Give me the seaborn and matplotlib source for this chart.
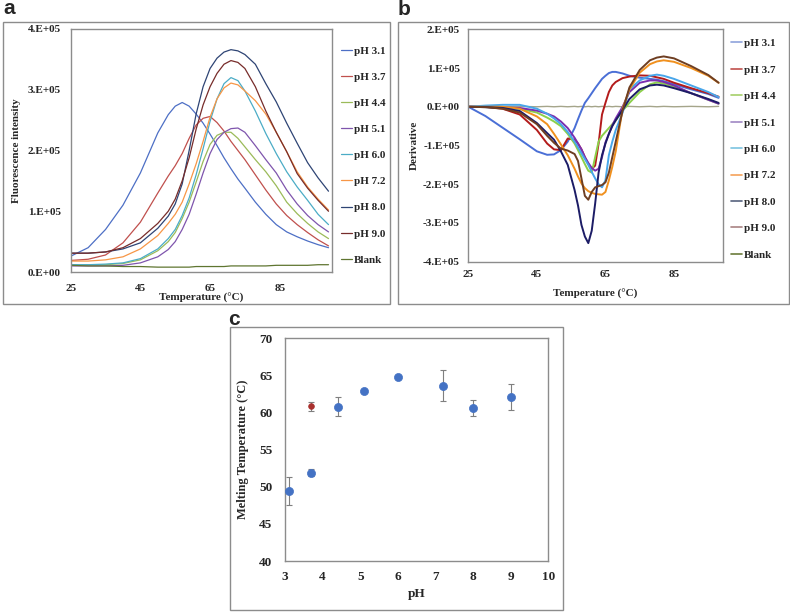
import numpy as np
import pandas as pd
import matplotlib
matplotlib.use("Agg")
import matplotlib.pyplot as plt
from matplotlib.lines import Line2D
from matplotlib.patches import Rectangle
import seaborn as sns

# ---------------- data ----------------
series_names = ["pH 3.1", "pH 3.7", "pH 4.4", "pH 5.1", "pH 6.0", "pH 7.2", "pH 8.0", "pH 9.0", "Blank"]

# Panel a: fluorescence intensity (x1e5) vs temperature
temp_a = [25, 30, 35, 40, 45, 50, 53, 55, 57, 59, 61, 63, 65, 67, 69, 71, 73, 75, 78, 81, 84, 87, 90, 93, 96, 99]
a_ph31 = [.26, .40, .70, 1.10, 1.63, 2.29, 2.59, 2.73, 2.79, 2.73, 2.60, 2.45, 2.27, 2.08, 1.88, 1.70, 1.53, 1.38, 1.15, .95, .78, .66, .58, .51, .45, .40]
a_ph37 = [.19, .21, .28, .48, .82, 1.30, 1.58, 1.75, 1.95, 2.20, 2.42, 2.53, 2.56, 2.46, 2.32, 2.15, 2.00, 1.85, 1.60, 1.35, 1.12, .93, .78, .65, .53, .43]
a_ph44 = [.12, .12, .12, .14, .20, .35, .50, .65, .88, 1.15, 1.48, 1.82, 2.10, 2.25, 2.30, 2.30, 2.20, 2.06, 1.85, 1.65, 1.42, 1.15, .96, .80, .66, .55]
a_ph51 = [.10, .10, .10, .11, .15, .25, .37, .50, .70, .95, 1.28, 1.63, 1.95, 2.18, 2.30, 2.36, 2.37, 2.30, 2.08, 1.85, 1.63, 1.35, 1.12, .93, .78, .66]
a_ph60 = [.12, .12, .13, .15, .22, .38, .55, .70, .93, 1.22, 1.60, 2.03, 2.48, 2.85, 3.10, 3.20, 3.15, 2.98, 2.65, 2.28, 1.95, 1.65, 1.40, 1.18, .95, .78]
a_ph72 = [.18, .18, .20, .25, .38, .60, .80, .95, 1.15, 1.45, 1.78, 2.15, 2.55, 2.85, 3.03, 3.11, 3.08, 2.98, 2.82, 2.60, 2.30, 1.98, 1.65, 1.40, 1.20, 1.02]
a_ph80 = [.31, .31, .33, .38, .48, .72, .92, 1.12, 1.45, 2.00, 2.60, 3.05, 3.35, 3.52, 3.62, 3.66, 3.64, 3.58, 3.42, 3.10, 2.80, 2.45, 2.12, 1.80, 1.55, 1.33]
a_ph90 = [.31, .31, .33, .40, .55, .80, 1.00, 1.20, 1.50, 1.88, 2.35, 2.75, 3.05, 3.27, 3.42, 3.48, 3.45, 3.35, 3.05, 2.65, 2.30, 1.98, 1.62, 1.38, 1.18, 1.00]
a_blank = [.11, .10, .10, .09, .09, .08, .08, .08, .08, .08, .09, .09, .09, .09, .09, .10, .10, .10, .10, .10, .11, .11, .11, .11, .12, .12]

# Panel b: derivative (x1e5) vs temperature
temp_b = [25, 30, 35, 40, 45, 48, 50, 52, 54, 56, 57, 58, 59, 60, 61, 62, 63, 64, 65, 66, 67, 68, 70, 72, 75, 78, 80, 82, 85, 90, 95, 98]
b_ph31 = [0, -.24, -.54, -.84, -1.15, -1.24, -1.23, -1.12, -.90, -.55, -.32, -.10, .10, .22, .35, .48, .60, .72, .80, .87, .90, .90, .86, .80, .75, .72, .70, .66, .58, .45, .33, .23]
b_ph37 = [0, 0, -.05, -.20, -.60, -.95, -1.10, -1.12, -.82, -.85, -.95, -1.10, -1.30, -1.48, -1.60, -1.52, -.95, -.20, .10, .38, .55, .64, .74, .78, .81, .80, .76, .72, .62, .48, .35, .26]
b_ph44 = [0, 0, -.02, -.05, -.15, -.28, -.38, -.50, -.70, -.95, -1.12, -1.30, -1.48, -1.65, -1.70, -1.30, -.90, -.75, -.65, -.55, -.45, -.35, -.10, .10, .38, .58, .63, .60, .52, .35, .18, .08]
b_ph51 = [0, 0, -.02, -.03, -.10, -.18, -.25, -.38, -.55, -.80, -.95, -1.10, -1.30, -1.45, -1.58, -1.65, -1.60, -1.30, -.92, -.70, -.48, -.30, 0, .38, .62, .68, .68, .64, .55, .35, .18, .08]
b_ph60 = [0, .03, .05, .05, -.05, -.18, -.30, -.45, -.65, -.90, -1.05, -1.20, -1.35, -1.50, -1.68, -1.85, -2.00, -2.08, -1.90, -1.25, -.90, -.60, -.15, .45, .68, .80, .83, .80, .72, .55, .38, .25]
b_ph72 = [0, 0, 0, -.05, -.25, -.45, -.70, -.97, -1.25, -1.60, -1.80, -1.98, -2.10, -2.18, -2.22, -2.25, -2.26, -2.27, -2.20, -1.90, -1.55, -1.15, -.05, .45, .88, 1.10, 1.17, 1.20, 1.16, 1.00, .80, .62]
b_ph80 = [0, -.01, -.03, -.11, -.42, -.68, -.85, -1.15, -1.50, -2.15, -2.55, -3.05, -3.35, -3.52, -3.20, -2.50, -1.70, -1.25, -.95, -.70, -.50, -.35, -.08, .20, .45, .55, .57, .55, .48, .35, .20, .10]
b_ph90 = [0, -.01, -.05, -.15, -.45, -.75, -.93, -1.08, -1.13, -1.22, -1.40, -1.85, -2.30, -2.40, -2.20, -2.08, -2.05, -2.02, -1.95, -1.70, -1.30, -.90, -.10, .50, .95, 1.20, 1.27, 1.30, 1.25, 1.05, .82, .62]
b_blank = [0, .01, 0, .01, 0, .01, 0, .01, 0, .01, 0, .01, 0, .01, 0, .01, 0, .01, 0, .01, 0, .01, 0, .01, 0, .01, 0, .01, 0, .01, 0, .01]

# Panel c: melting temperature vs pH
ph_c = [3.1, 3.7, 4.4, 5.1, 6.0, 7.2, 8.0, 9.0]
tm_c = [49.4, 51.9, 60.8, 62.9, 64.8, 63.6, 60.6, 62.1]
err_c = [1.9, 0.45, 1.25, 0.15, 0.15, 2.1, 1.05, 1.8]
ph_red = [3.7]
tm_red = [60.85]
err_red = [0.6]

ticks_a = [0, 1e5, 2e5, 3e5, 4e5]
ticklabels_a = ["0.E+00", "1.E+05", "2.E+05", "3.E+05", "4.E+05"]
ticks_b = [-4e5, -3e5, -2e5, -1e5, 0, 1e5, 2e5]
ticklabels_b = ["-4.E+05", "-3.E+05", "-2.E+05", "-1.E+05", "0.E+00", "1.E+05", "2.E+05"]
xticks_ab = [25, 45, 65, 85]

# ---------------- style ----------------
sns.set_style("white")
plt.rcParams["font.family"] = ["Liberation Serif", "DejaVu Serif"]
plt.rcParams["font.weight"] = "bold"
plt.rcParams["axes.labelweight"] = "bold"

colors_a = ["#4D6FC5", "#C0504D", "#9BBB59", "#7F55AD", "#4BACC6", "#F79646", "#2E4474", "#772C2A", "#5F7530"]
colors_b = ["#4A6FD6", "#B31B1B", "#8CD04A", "#7A2FB0", "#48A6EA", "#F0901E", "#1C1C66", "#6E3E22", "#A5A58A"]
legend_b = ["#8FA3DC", "#C0504D", "#A6D06A", "#9F87C4", "#7CC3E0", "#F5A25A", "#56627E", "#A98383", "#6B7B3B"]
frame_col = "#8C8C8C"

fig = plt.figure(figsize=(7.9, 6.12), dpi=100)
W, H = 790, 612

def ax_px(l, t, r, b):
    return fig.add_axes([l / W, 1 - b / H, (r - l) / W, (b - t) / H])

def frame(l, t, r, b):
    fig.patches.append(Rectangle((l / W, 1 - b / H), (r - l) / W, (b - t) / H,
                                 transform=fig.transFigure, fill=False,
                                 edgecolor=frame_col, linewidth=1.0))

frame(3, 22, 390, 304)
frame(398, 22, 789, 304)
frame(230, 327, 563, 610)

# ---------------- panel a ----------------
ax_a = ax_px(70.7, 29, 332, 272)
vals_a = [a_ph31, a_ph37, a_ph44, a_ph51, a_ph60, a_ph72, a_ph80, a_ph90, a_blank]
df_a = pd.concat([pd.DataFrame({"T": temp_a, "v": np.array(v) * 1e5, "s": n})
                  for n, v in zip(series_names, vals_a)])
sns.lineplot(data=df_a, x="T", y="v", hue="s", palette=colors_a, ax=ax_a,
             legend=False, linewidth=0.9)
ax_a.set_xlim(25, 100)
ax_a.set_ylim(0, 4e5)
ax_a.set_xticks(xticks_ab)
ax_a.set_yticks(ticks_a)
ax_a.set_yticklabels(ticklabels_a)
ax_a.tick_params(length=0, labelsize=8, pad=7)
ax_a.tick_params(axis="x", pad=8.5)
ax_a.set_xlabel("Temperature (°C)", fontsize=8)
ax_a.set_ylabel("Fluorescence intensity", fontsize=8)
ax_a.xaxis.set_label_coords(0.5, -0.088)
ax_a.yaxis.set_label_coords(-0.19, 0.5)
for sp in ax_a.spines.values():
    sp.set_color(frame_col)
    sp.set_linewidth(1.0)
handles_a = [Line2D([], [], color=c, lw=0.9) for c in colors_a]
ax_a.legend(handles_a, series_names, loc="upper left", bbox_to_anchor=(341 / W, 1 - 46 / H),
            bbox_transform=fig.transFigure, frameon=False, fontsize=8,
            handlelength=1.0, handletextpad=0.15, labelspacing=1.47,
            borderpad=0, borderaxespad=0)

# ---------------- panel b ----------------
ax_b = ax_px(468.3, 29.3, 722.7, 261.7)
vals_b = [b_ph31, b_ph37, b_ph44, b_ph51, b_ph60, b_ph72, b_ph80, b_ph90, b_blank]
df_b = pd.concat([pd.DataFrame({"T": temp_b, "v": np.array(v) * 1e5, "s": n})
                  for n, v in zip(series_names, vals_b)])
df_b_main = df_b[df_b["s"] != "Blank"]
df_b_blank = df_b[df_b["s"] == "Blank"]
sns.lineplot(data=df_b_blank, x="T", y="v", color=colors_b[-1], ax=ax_b,
             legend=False, linewidth=1.0)
sns.lineplot(data=df_b_main, x="T", y="v", hue="s", palette=colors_b[:-1], ax=ax_b,
             legend=False, linewidth=1.4)
ax_b.set_xlim(25, 99.2)
ax_b.set_ylim(-4e5, 2e5)
ax_b.set_xticks(xticks_ab)
ax_b.set_yticks(ticks_b)
ax_b.set_yticklabels(ticklabels_b)
ax_b.tick_params(length=0, labelsize=8)
ax_b.tick_params(axis="y", pad=6)
ax_b.tick_params(axis="x", pad=6)
ax_b.set_xlabel("Temperature (°C)", fontsize=8)
ax_b.set_ylabel("Derivative", fontsize=8)
ax_b.xaxis.set_label_coords(0.5, -0.118)
ax_b.yaxis.set_label_coords(-0.194, 0.5)
for sp in ax_b.spines.values():
    sp.set_color(frame_col)
    sp.set_linewidth(1.0)
handles_b = [Line2D([], [], color=c, lw=1.2) for c in legend_b]
ax_b.legend(handles_b, series_names, loc="upper left", bbox_to_anchor=(731 / W, 1 - 38.5 / H),
            bbox_transform=fig.transFigure, frameon=False, fontsize=8,
            handlelength=1.0, handletextpad=0.15, labelspacing=1.5,
            borderpad=0, borderaxespad=0)

# ---------------- panel c ----------------
ax_c = ax_px(285, 338.3, 548.3, 561)
ax_c.errorbar(ph_c, tm_c, yerr=err_c, fmt="none", ecolor="#7F7F7F", elinewidth=0.8, capsize=2, capthick=0.8, zorder=1)
ax_c.errorbar(ph_red, tm_red, yerr=err_red, fmt="none", ecolor="#7F7F7F", elinewidth=0.8, capsize=2, capthick=0.8, zorder=1)
df_c = pd.DataFrame({"pH": ph_c, "Tm": tm_c})
df_r = pd.DataFrame({"pH": ph_red, "Tm": tm_red})
sns.scatterplot(data=df_c, x="pH", y="Tm", color="#4472C4", s=34, edgecolor="#4472C4", linewidth=0.5, ax=ax_c, zorder=3)
sns.scatterplot(data=df_r, x="pH", y="Tm", color="#A9312E", s=17, edgecolor="#A9312E", linewidth=0.5, ax=ax_c, zorder=3)
ax_c.set_xlim(3, 10)
ax_c.set_ylim(40, 70)
ax_c.set_xticks(range(3, 11))
ax_c.set_xticks(np.arange(3.5, 10, 1.0), minor=True)
ax_c.set_yticks(range(40, 71, 5))
ax_c.tick_params(axis="x", which="both", direction="in", length=3, color="#555555", labelsize=9.5, pad=7.5)
ax_c.tick_params(axis="y", length=0, labelsize=9.5, pad=9)
ax_c.set_xlabel("pH", fontsize=9.5)
ax_c.set_ylabel("Melting Temperature (°C)", fontsize=9)
ax_c.xaxis.set_label_coords(0.5, -0.122)
ax_c.yaxis.set_label_coords(-0.137, 0.5)
for sp in ax_c.spines.values():
    sp.set_color(frame_col)
    sp.set_linewidth(1.0)

# ---------------- panel letters ----------------
for txt, x, y in [("a", 3.5, 14.5), ("b", 398, 15), ("c", 228, 325)]:
    fig.text(x / W, 1 - y / H, txt, fontsize=15, fontweight="bold",
             family=["Liberation Sans", "DejaVu Sans"], va="baseline", ha="left")

fig.savefig("out.png", dpi=100)
